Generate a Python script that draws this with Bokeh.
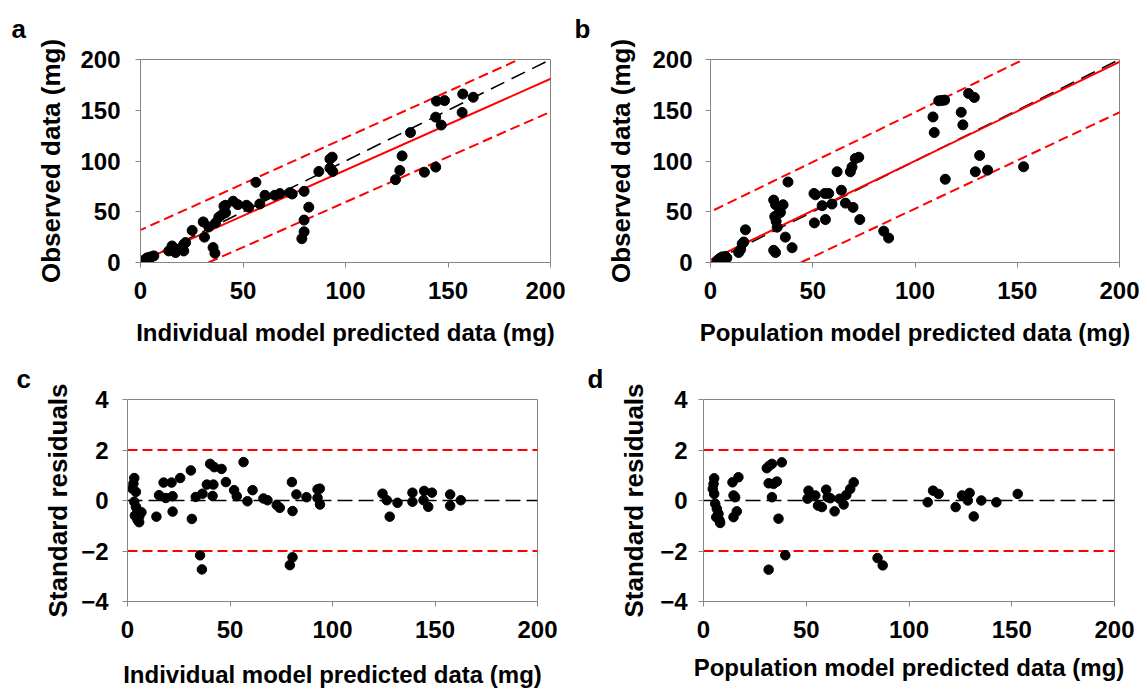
from bokeh.plotting import figure
from bokeh.models import Range1d, FixedTicker, Span, Slope, Title
from bokeh.layouts import column, row
from bokeh.embed import file_html
from bokeh.resources import INLINE

# ---------------- data ----------------
ticks_mg = [0, 50, 100, 150, 200]
ticks_res = [-4, -2, 0, 2, 4]

# panel a: individual model predicted vs observed
ind_pred = [1.6, 2.4, 3.3, 4.9, 6.5, 4.1,
            13.8, 15.4, 17.1, 18.7, 20.3, 21.1, 22.0, 21.1,
            25.2, 30.6, 31.2, 33.3, 35.4, 36.3, 36.6, 38.2, 39.8, 41.5, 40.7, 41.5,
            45.2, 47.5, 51.7, 52.8, 56.3, 58.2, 60.7, 65.5, 68.0, 72.8, 74.0,
            79.8, 82.1, 79.8, 79.8, 78.7, 87.0, 92.4, 93.5, 92.4, 93.8,
            124.4, 126.5, 127.6, 131.7, 138.5, 144.0, 144.0, 144.4, 148.3, 146.7,
            156.9, 157.2, 162.3]
ind_obs = [1.6, 3.3, 4.6, 5.5, 6.5, 2.6,
           11.4, 16.3, 9.8, 13.0, 14.7, 17.9, 19.6, 11.4,
           31.6, 40.0, 25.0, 35.0, 14.7, 9.1, 39.0, 44.7, 47.3, 49.0, 55.5, 56.4,
           60.4, 57.0, 56.4, 54.5, 79.0, 57.7, 66.2, 66.2, 67.9, 68.8, 67.5,
           70.1, 54.5, 41.8, 30.3, 23.5, 89.7, 102.0, 103.8, 93.0, 89.7,
           81.6, 90.7, 105.0, 128.0, 89.0, 94.0, 143.2, 159.0, 159.5, 135.4,
           147.8, 166.0, 162.8]

# panel b: population model predicted vs observed
pop_pred = [3.3, 4.5, 5.7, 6.5, 7.3, 8.0, 4.0,
            13.8, 14.7, 15.5, 16.3, 17.1,
            30.9, 31.8, 31.4, 32.1, 32.6, 33.4, 34.2, 35.5, 30.9, 31.8, 36.6, 37.9, 39.9,
            50.6, 51.3, 50.8, 54.6, 55.9, 56.2, 57.8, 59.4, 61.9, 64.0, 66.0, 68.4,
            69.2, 69.7, 70.8, 72.5, 73.0, 84.7, 87.1,
            108.8, 109.4, 111.6, 113.2, 114.5, 114.8, 122.6, 123.4, 126.2, 129.0,
            129.5, 131.6, 135.5, 153.1]
pop_obs = [2.0, 4.0, 5.5, 3.0, 6.0, 4.5, 1.5,
           9.8, 12.7, 18.5, 20.2, 32.2,
           61.5, 56.9, 45.2, 40.6, 34.8, 48.5, 49.4, 56.9, 12.0, 9.8, 25.0, 79.3, 14.6,
           68.0, 66.7, 39.0, 56.0, 68.0, 42.3, 68.0, 57.6, 89.4, 71.2, 58.5, 89.4,
           94.0, 54.3, 102.4, 103.7, 42.3, 30.9, 24.1,
           143.4, 128.1, 159.3, 159.7, 160.0, 82.0, 148.0, 135.6, 166.5, 162.6,
           89.4, 105.4, 91.0, 94.3]

# panel c: standard residuals vs individual prediction
ind_res_x = [3.3, 2.9, 2.4, 4.1, 3.3, 4.1, 4.9, 3.6, 5.7, 4.9, 5.7, 6.8,
             14.1, 15.4, 17.6, 18.7, 21.5, 22.0, 22.0, 25.7, 30.9, 31.4, 33.3,
             35.4, 36.3, 36.6, 38.7, 40.3, 41.9, 41.5, 42.3, 45.9, 48.0, 52.0,
             53.3, 56.6, 58.5, 61.0, 66.3, 68.3, 72.8, 74.3, 80.2, 80.5, 79.2,
             80.5, 82.4, 87.3, 92.7, 93.8, 92.7, 93.9,
             124.4, 126.5, 127.9, 131.7, 139.0, 139.0, 144.7, 144.4, 146.7,
             148.5, 157.4, 157.4, 162.6]
ind_res_y = [0.89, 0.67, 0.47, 0.34, -0.05, -0.25, -0.38, -0.60, -0.64, -0.77, -0.86, -0.47,
             -0.64, 0.21, 0.71, 0.10, 0.71, 0.17, -0.44, 0.89, 1.19, -0.73, 0.14,
             -2.17, -2.73, 0.27, 0.63, 1.45, 0.63, 0.18, 1.32, 1.25, 0.73, 0.41,
             0.17, 1.52, -0.03, 0.41, 0.08, 0.01, -0.18, -0.29, 0.73, -0.42, -2.56,
             -2.25, 0.24, 0.13, 0.44, 0.47, 0.10, -0.16,
             0.27, 0.01, -0.64, -0.09, -0.05, 0.31, 0.38, 0.01, -0.25,
             0.31, 0.24, -0.21, 0.01]

# panel d: standard residuals vs population prediction
pop_res_x = [5.2, 4.9, 4.5, 5.2, 5.7, 6.5, 7.3, 6.2, 7.8, 8.1,
             14.1, 17.0, 14.6, 15.4, 16.2, 14.6,
             30.8, 32.1, 33.3, 31.7, 34.1, 35.7, 33.3, 38.1, 36.5, 39.8, 31.7,
             51.1, 50.6, 54.4, 55.7, 57.6, 59.7, 60.4, 61.7, 63.8, 66.2, 68.2,
             69.5, 71.4, 73.1, 84.7, 87.2,
             109.1, 111.7, 114.4, 122.7, 125.8, 129.5, 128.6, 131.5, 135.2, 142.5, 152.9]
pop_res_y = [0.88, 0.66, 0.46, 0.26, -0.13, -0.33, -0.53, -0.66, -0.79, -0.89,
             0.72, 0.92, 0.20, 0.13, -0.43, -0.66,
             1.28, 1.38, 1.45, 0.68, 0.66, 0.75, 0.13, 1.51, -0.72, -2.17, -2.74,
             0.39, 0.07, 0.20, -0.20, -0.26, 0.43, 0.13, 0.09, -0.43, 0.07, -0.16,
             0.22, 0.46, 0.72, -2.28, -2.57,
             -0.07, 0.39, 0.26, -0.26, 0.20, 0.30, 0.00, -0.63, 0.00, -0.07, 0.26]

# fitted lines (gradient, intercept): regression, upper and lower limits
fit_a = [(0.90, 1.0), (0.91, 32.0), (0.89, -29.5)]
fit_b = [(0.976, 2.5), (0.98, 50.0), (0.95, -42.0)]
res_limits = [2, -2]

FONT = "Liberation Sans"
GRAY = "#868686"


def base_fig(w, h, left, right, top, bottom, yr, yticks, xlabel, ylabel,
             ylab_so, ytitle_so, xtitle_so):
    p = figure(width=w, height=h, output_backend="svg", toolbar_location=None,
               x_range=Range1d(0, 200), y_range=Range1d(*yr),
               min_border_left=left, min_border_right=right,
               min_border_top=top, min_border_bottom=bottom)
    p.grid.visible = False
    p.outline_line_color = GRAY
    p.outline_line_width = 1
    p.background_fill_color = "white"
    for ax, ticks in ((p.xaxis[0], ticks_mg), (p.yaxis[0], yticks)):
        ax.ticker = FixedTicker(ticks=ticks)
        ax.axis_line_color = GRAY
        ax.major_tick_line_color = GRAY
        ax.major_tick_out = 5
        ax.major_tick_in = 0
        ax.minor_tick_line_color = None
        ax.major_label_text_font = FONT
        ax.major_label_text_font_style = "bold"
        ax.major_label_text_font_size = "24px"
        ax.major_label_text_color = "black"
        ax.axis_label_text_font = FONT
        ax.axis_label_text_font_style = "bold"
        ax.axis_label_text_color = "black"
    p.xaxis.axis_label_text_font_size = "24px"
    p.yaxis.axis_label_text_font_size = "26px"
    p.xaxis.axis_label = xlabel
    p.yaxis.axis_label = ylabel
    p.xaxis.major_label_standoff = 14
    p.yaxis.major_label_standoff = ylab_so
    p.xaxis.axis_label_standoff = xtitle_so
    p.yaxis.axis_label_standoff = ytitle_so
    return p


def letter(p, txt, offset, standoff):
    p.add_layout(Title(text=txt, align="left", offset=offset, standoff=standoff,
                       vertical_align="top", text_font=FONT, text_font_style="bold",
                       text_font_size="26px", text_color="black"), "above")


def obs_panel(p, xs, ys, fit):
    p.add_layout(Slope(gradient=1, y_intercept=0, line_color="black", line_width=1.6,
                       line_dash="15 8", level="underlay"))
    g, c = fit[0]
    p.add_layout(Slope(gradient=g, y_intercept=c, line_color="#FF0000", line_width=2,
                       level="underlay"))
    for g, c in fit[1:]:
        p.add_layout(Slope(gradient=g, y_intercept=c, line_color="#FF0000", line_width=2,
                           line_dash="10 5", level="underlay"))
    p.scatter(xs, ys, size=10, color="black")


def res_panel(p, xs, ys):
    p.add_layout(Span(location=0, dimension="width", line_color="black", line_width=1.6,
                      line_dash="15 6", level="underlay"))
    for loc in res_limits:
        p.add_layout(Span(location=loc, dimension="width", line_color="#FF0000",
                          line_width=2, line_dash="10 5", level="underlay"))
    p.scatter(xs, ys, size=9.5, color="black")


pa = base_fig(565, 355, 140, 15, 57, 93, (0, 200), ticks_mg,
              "Individual model predicted data (mg)", "Observed data (mg)", 15, 11, 17)
obs_panel(pa, ind_pred, ind_obs, fit_a)
letter(pa, "a", -129, 27)

pb = base_fig(582, 355, 145, 28, 57, 93, (0, 200), ticks_mg,
              "Population model predicted data (mg)", "Observed data (mg)", 13, 13, 17)
obs_panel(pb, pop_pred, pop_obs, fit_b)
letter(pb, "b", -136, 27)

pc = base_fig(570, 337, 127, 33, 42, 91, (-4, 4), ticks_res,
              "Individual model predicted data (mg)", "Standard residuals", 14, 5, 20)
res_panel(pc, ind_res_x, ind_res_y)
letter(pc, "c", -111, 7)

pd = base_fig(577, 337, 133, 33, 44, 89, (-4, 4), ticks_res,
              "Population model predicted data (mg)", "Standard residuals", 11, 8, 13)
res_panel(pd, pop_res_x, pop_res_y)
letter(pd, "d", -116, 8)

layout = column(row(pa, pb), row(pc, pd))
open("out.html", "w").write(file_html(layout, INLINE))
